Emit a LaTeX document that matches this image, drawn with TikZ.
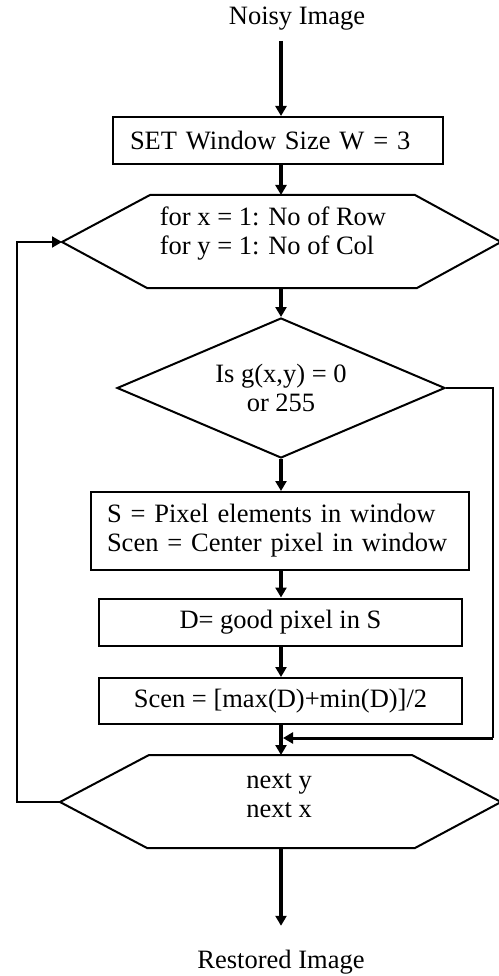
\documentclass[tikz,border=0pt]{standalone}
\usepackage{fontspec}
\setmainfont{Liberation Serif}
\usetikzlibrary{arrows.meta,shapes.geometric}
\begin{document}
\begin{tikzpicture}[x=1pt,y=-1pt,
  every node/.style={font=\fontsize{26.5}{29}\selectfont},
  txt/.style={inner sep=0pt},
  box/.style={draw, line width=2pt, minimum height=47pt, inner ysep=0pt},
  outline/.style={draw, line width=2pt, line join=miter},
  flow/.style={line width=3.5pt, -{Triangle[length=10pt,width=11pt]}},
  thinflow/.style={line width=2pt, -{Triangle[length=10pt,width=11pt]}},
  thinline/.style={line width=2pt},
]
\useasboundingbox (0,0) rectangle (498,976);

% vertical axis of the main flow
\coordinate (col) at (281,0);

% terminals
\node[txt] (in) at (297,19) {Noisy Image};
\node[txt] (out) at (281,962) {Restored Image};

% initialisation
\node[box, text width=296pt, inner xsep=17pt, align=left] (set) at (278,140.5)
  {SET Window Size W = 3};

% outer loop header
\node[txt, align=left] (loopA) at (273,234)
  {for x = 1: No of Row\\for y = 1: No of Col};
\coordinate (h1top) at (281,195);
\coordinate (h1bot) at (281,288);
\coordinate (h1left) at (62,242);
\draw[outline] (150,195) -- (415,195) -- (501,242) -- (417,288) -- (147,288)
  -- (h1left) -- cycle;

% impulse test
\node[draw, line width=2pt, shape=diamond, aspect=2.34, inner sep=0pt,
      minimum width=328pt, minimum height=140pt, align=center] (test) at (281,388)
  {Is g(x,y) = 0\\or 255};

% processing boxes
\node[box, minimum height=78pt, text width=346pt, inner xsep=16pt, align=left]
  (win) at (280,531)
  {S = Pixel elements in window\\Scen = Center pixel in window};
\node[box, minimum width=363pt] (good) at (280.5,622) {D= good pixel in S};
\node[box, minimum width=363pt, minimum height=46pt] (scen) at (280.5,701)
  {Scen = [max(D)+min(D)]/2};

% loop end
\node[txt, align=left] (loopB) at (279,796) {next y\\next x};
\coordinate (h2top) at (281,755);
\coordinate (h2bot) at (281,848);
\coordinate (h2left) at (60,802);
\draw[outline] (149,755) -- (412,755) -- (501,802) -- (415,848) -- (147,848)
  -- (h2left) -- cycle;

% main flow
\draw[flow, shorten <=10pt] (in.south -| col) -- (set.north -| col);
\draw[flow] (set.south -| col) -- (h1top);
\draw[flow] (h1bot) -- (test.north);
\draw[flow] (test.south) -- (win.north -| col);
\draw[flow] (win.south -| col) -- (good.north -| col);
\draw[flow] (good.south -| col) -- (scen.north -| col);
\draw[flow] (scen.south -| col) -- (h2top);
\draw[flow, shorten >=24pt] (h2bot) -- (out.north -| col);

% bypass for non-impulse pixels
\coordinate (rc) at (493,738);
\coordinate (merge) at (283,738);
\draw[thinline] (test.east) -| (rc);
\draw[line width=3pt, -{Triangle[length=10pt,width=11pt]}] (rc) -- (merge);

% return to loop header
\coordinate (lc) at (17,242);
\draw[thinflow] (h2left) -| (lc) -- (h1left);
\end{tikzpicture}
\end{document}
